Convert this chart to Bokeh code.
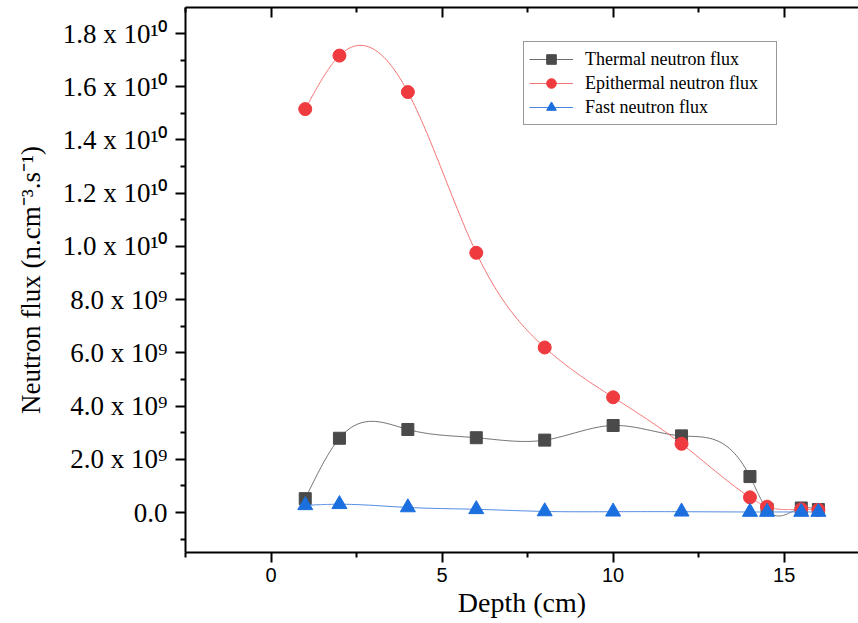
import numpy as np
from bokeh.plotting import figure
from bokeh.models import (Range1d, FixedTicker, LinearAxis, Legend,
                          LegendItem, CustomJSTickFormatter)
from bokeh.embed import file_html
from bokeh.resources import INLINE

# ---------------- data ----------------
depth = [1, 2, 4, 6, 8, 10, 12, 14, 14.5, 15.5, 16]
thermal = [0.52e9, 2.79e9, 3.12e9, 2.81e9, 2.72e9, 3.27e9, 2.88e9, 1.35e9, 0.12e9, 0.17e9, 0.11e9]
epithermal = [15.16e9, 17.17e9, 15.80e9, 9.76e9, 6.20e9, 4.33e9, 2.58e9, 0.57e9, 0.22e9, 0.12e9, 0.10e9]
fast = [0.27e9, 0.31e9, 0.19e9, 0.12e9, 0.04e9, 0.03e9, 0.03e9, 0.02e9, 0.02e9, 0.02e9, 0.02e9]

series_names = ["Thermal neutron flux", "Epithermal neutron flux", "Fast neutron flux"]

x_major_ticks = [0, 5, 10, 15]
x_minor_ticks = [-2.5, 2.5, 7.5, 12.5]
y_major_ticks = [0, 2e9, 4e9, 6e9, 8e9, 10e9, 12e9, 14e9, 16e9, 18e9]
y_minor_ticks = [-1e9, 1e9, 3e9, 5e9, 7e9, 9e9, 11e9, 13e9, 15e9, 17e9]
y_tick_labels = ["0.0", "2.0 x 10\u2079", "4.0 x 10\u2079", "6.0 x 10\u2079", "8.0 x 10\u2079",
                 "1.0 x 10\u00b9\u2070", "1.2 x 10\u00b9\u2070", "1.4 x 10\u00b9\u2070",
                 "1.6 x 10\u00b9\u2070", "1.8 x 10\u00b9\u2070"]
x_title = "Depth (cm)"
y_title = "Neutron flux (n.cm\u207b\u00b3.s\u207b\u00b9)"

# ---------------- layout constants ----------------
W, H = 858, 623
FRAME_LEFT, FRAME_TOP, FRAME_BOTTOM = 185, 7, 552
ZERO_Y = 512
X0 = -2.5
PXX = 34.21            # px per depth unit
PXY = 26.61 / 1e9      # px per flux unit
X1 = X0 + (W - FRAME_LEFT) / PXX
Y1 = (ZERO_Y - FRAME_TOP) / PXY
Y0 = -(FRAME_BOTTOM - ZERO_Y) / PXY

SERIF = "Liberation Serif"
SANS = "Liberation Sans"


def smooth(xs, ys, n=40):
    """Natural cubic spline drawn through the data points (line rendering)."""
    x = np.asarray(xs, float)
    y = np.asarray(ys, float)
    k = len(x)
    h = np.diff(x)
    A = np.zeros((k, k))
    r = np.zeros(k)
    A[0, 0] = A[-1, -1] = 1
    for i in range(1, k - 1):
        A[i, i - 1] = h[i - 1]
        A[i, i] = 2 * (h[i - 1] + h[i])
        A[i, i + 1] = h[i]
        r[i] = 6 * ((y[i + 1] - y[i]) / h[i] - (y[i] - y[i - 1]) / h[i - 1])
    M = np.linalg.solve(A, r)
    xx, yy = [], []
    for i in range(k - 1):
        t = np.linspace(x[i], x[i + 1], n, endpoint=(i == k - 2))
        a = x[i + 1] - t
        b = t - x[i]
        s = (M[i] * a ** 3 / (6 * h[i]) + M[i + 1] * b ** 3 / (6 * h[i])
             + (y[i] / h[i] - M[i] * h[i] / 6) * a
             + (y[i + 1] / h[i] - M[i + 1] * h[i] / 6) * b)
        xx += list(t)
        yy += list(s)
    return xx, yy


p = figure(width=W, height=H, output_backend="svg", toolbar_location=None,
           x_range=Range1d(X0, X1), y_range=Range1d(Y0, Y1),
           min_border_left=FRAME_LEFT, min_border_right=0,
           min_border_top=FRAME_TOP, min_border_bottom=H - FRAME_BOTTOM,
           background_fill_color="white", border_fill_color="white",
           outline_line_color=None)
p.xgrid.visible = False
p.ygrid.visible = False


def style_axis(ax, inward=False):
    ax.axis_line_width = 2
    ax.axis_line_color = "black"
    ax.major_tick_line_width = 2
    ax.minor_tick_line_width = 2
    ax.major_tick_line_color = "black"
    ax.minor_tick_line_color = "black"
    if inward:
        ax.major_tick_in, ax.major_tick_out = 10, 0
        ax.minor_tick_in, ax.minor_tick_out = 5, 0
    else:
        ax.major_tick_in, ax.major_tick_out = 0, 10
        ax.minor_tick_in, ax.minor_tick_out = 0, 5


# bottom axis
xa = p.xaxis[0]
xa.ticker = FixedTicker(ticks=x_major_ticks, minor_ticks=x_minor_ticks)
xa.major_label_text_font = SANS
xa.major_label_text_font_size = "20px"
xa.major_label_text_color = "black"
xa.major_label_standoff = 5
xa.axis_label = x_title
xa.axis_label_text_font = SERIF
xa.axis_label_text_font_size = "28px"
xa.axis_label_text_font_style = "normal"
xa.axis_label_text_color = "black"
xa.axis_label_standoff = 2
style_axis(xa)

# left axis
ya = p.yaxis[0]
ya.ticker = FixedTicker(ticks=y_major_ticks, minor_ticks=y_minor_ticks)
ya.formatter = CustomJSTickFormatter(
    args=dict(vals=y_major_ticks, labels=y_tick_labels),
    code="""
    let best = 0;
    for (let i = 0; i < vals.length; i++) {
        if (Math.abs(vals[i] - tick) < Math.abs(vals[best] - tick)) best = i;
    }
    return labels[best];
    """)
ya.major_label_text_font = SERIF
ya.major_label_text_font_size = "27px"
ya.major_label_text_color = "black"
ya.major_label_standoff = 8
ya.axis_label = y_title
ya.axis_label_text_font = SERIF
ya.axis_label_text_font_size = "27px"
ya.axis_label_text_font_style = "normal"
ya.axis_label_text_color = "black"
ya.axis_label_standoff = 14
style_axis(ya)

# top axis: line with inward ticks, no labels
top = LinearAxis(ticker=FixedTicker(ticks=x_major_ticks, minor_ticks=x_minor_ticks),
                 formatter=CustomJSTickFormatter(code="return ''"),
                 major_label_standoff=0, major_label_text_font_size="1px")
style_axis(top, inward=True)
p.add_layout(top, "above")

# ---------------- series ----------------
styles = [
    dict(data=thermal, marker="square", size=12, color="#4a4a4a", line="#6e6e6e"),
    dict(data=epithermal, marker="circle", size=13, color="#ef3b3f", line="#f27373"),
    dict(data=fast, marker="triangle", size=15, color="#1b6fdf", line="#4a86e0"),
]
items = []
for name, st in zip(series_names, styles):
    sx, sy = smooth(depth, st["data"])
    ln = p.line(sx, sy, line_color=st["line"], line_width=1)
    sc = p.scatter(depth, st["data"], marker=st["marker"], size=st["size"],
                   fill_color=st["color"], line_color=st["color"], line_width=1)
    items.append(LegendItem(label=name, renderers=[ln, sc]))

legend = Legend(items=items, location=(338, 427),
                label_text_font=SERIF, label_text_font_size="18px",
                label_text_color="black",
                glyph_width=44, glyph_height=24, label_height=24,
                spacing=0, padding=5, margin=0, label_standoff=12,
                label_width=186, border_line_color="#333333",
                border_line_width=1, background_fill_color="white",
                background_fill_alpha=1.0)
p.add_layout(legend)

open("out.html", "w").write(file_html(p, INLINE))
